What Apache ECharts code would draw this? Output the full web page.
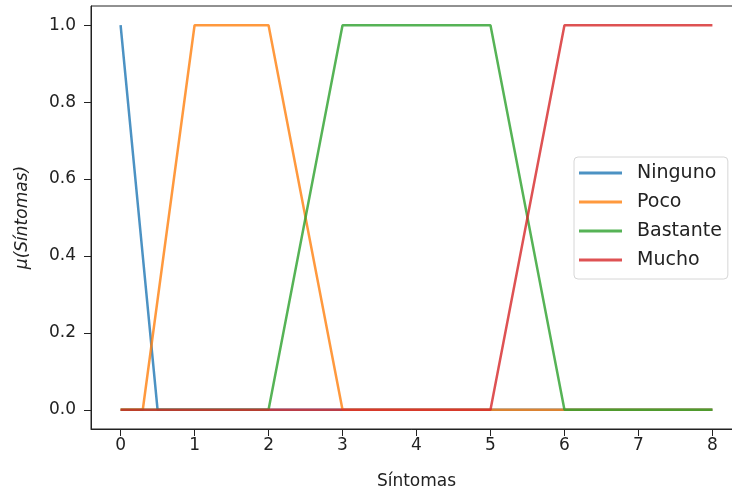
<!DOCTYPE html>
<html>
<head>
<meta charset="utf-8">
<script src="https://cdn.jsdelivr.net/npm/echarts@6/dist/echarts.min.js"></script>
<style>
  html, body { margin: 0; padding: 0; background: #fff; }
  #chart { width: 732px; height: 495px; }
</style>
</head>
<body>
<div id="chart"></div>
<script>
// Membership functions of the fuzzy variable "Síntomas" (breakpoints x, degree y)
const seriesNames = ['Ninguno', 'Poco', 'Bastante', 'Mucho'];
const ningunoX = [0, 0.5, 8];
const ningunoY = [1, 0, 0];
const pocoX = [0, 0.3, 1, 2, 3, 8];
const pocoY = [0, 0, 1, 1, 0, 0];
const bastanteX = [0, 2, 3, 5, 6, 8];
const bastanteY = [0, 0, 1, 1, 0, 0];
const muchoX = [0, 5, 6, 8];
const muchoY = [0, 0, 1, 1];

const xTicks = [0, 1, 2, 3, 4, 5, 6, 7, 8];
const yTicks = [0, 0.2, 0.4, 0.6, 0.8, 1.0];

const colors = ['#1f77b4', '#ff7f0e', '#2ca02c', '#d62728'];
const pairs = (xs, ys) => xs.map((x, i) => [x, ys[i]]);
const allData = [
  pairs(ningunoX, ningunoY),
  pairs(pocoX, pocoY),
  pairs(bastanteX, bastanteY),
  pairs(muchoX, muchoY)
];

const font = 'DejaVu Sans';
const fs = 17;
const ink = '#222';
const chart = echarts.init(document.getElementById('chart'), null, { renderer: 'canvas' });

chart.setOption({
  animation: false,
  backgroundColor: '#ffffff',
  grid: {
    left: 91, top: 6, width: 651, height: 423,
    containLabel: false,
    outerBoundsMode: 'none',
    show: true, borderColor: ink, borderWidth: 1, backgroundColor: 'transparent'
  },
  legend: {
    orient: 'vertical',
    left: 574, top: 157,
    padding: [6, 6, 9, 5],
    backgroundColor: 'rgba(255,255,255,0.8)',
    borderColor: '#d6d6d6', borderWidth: 1, borderRadius: 4,
    icon: 'rect',
    itemWidth: 43, itemHeight: 3,
    itemGap: 9,
    textStyle: { fontFamily: font, fontSize: 19, color: ink, lineHeight: 20, padding: [0, 0, 0, 10] },
    data: seriesNames
  },
  xAxis: {
    type: 'value',
    min: -0.4, max: 8.4,
    name: 'Síntomas',
    nameLocation: 'middle',
    nameGap: 44,
    nameTextStyle: { fontFamily: font, fontSize: fs, color: ink },
    axisLine: { show: true, onZero: false, lineStyle: { color: ink, width: 1 } },
    axisTick: { show: true, length: 7, customValues: xTicks, lineStyle: { color: ink } },
    axisLabel: { customValues: xTicks, fontFamily: font, fontSize: fs, color: ink, margin: 8 },
    splitLine: { show: false }
  },
  yAxis: {
    type: 'value',
    min: -0.05, max: 1.05,
    name: 'μ(Síntomas)',
    nameLocation: 'middle',
    nameGap: 60,
    nameRotate: 90,
    nameTextStyle: { fontFamily: font, fontSize: fs, color: ink, fontStyle: 'italic' },
    axisLine: { show: true, onZero: false, lineStyle: { color: ink, width: 1 } },
    axisTick: { show: true, length: 7, customValues: yTicks, lineStyle: { color: ink } },
    axisLabel: {
      customValues: yTicks, fontFamily: font, fontSize: fs, color: ink, margin: 15,
      formatter: v => v.toFixed(1)
    },
    splitLine: { show: false }
  },
  series: seriesNames.map((name, i) => ({
    name: name,
    type: 'line',
    data: allData[i],
    showSymbol: false,
    symbol: 'none',
    color: colors[i],
    lineStyle: { width: 2.5, color: colors[i], opacity: 0.8 },
    itemStyle: { color: colors[i], opacity: 0.8 },
    emphasis: { disabled: true }
  }))
});
</script>
</body>
</html>
